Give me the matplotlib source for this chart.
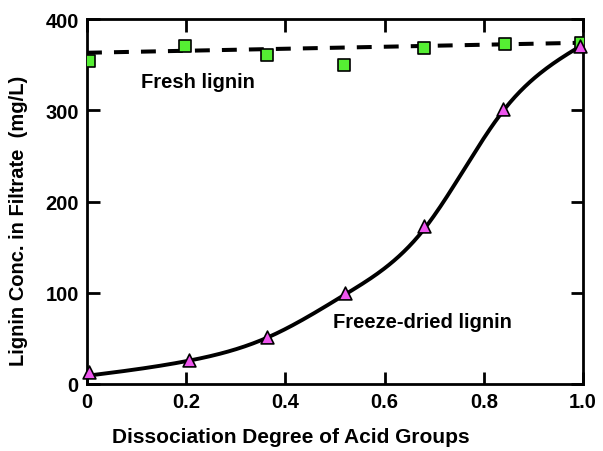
import numpy as np
import matplotlib
matplotlib.use('Agg')
import matplotlib.pyplot as plt

plt.rcParams['font.family'] = ['Liberation Sans', 'DejaVu Sans']
plt.rcParams['font.weight'] = 'bold'

# data
fresh_x = [0.004, 0.198, 0.363, 0.518, 0.68, 0.843, 0.996]
fresh_y = [354, 370, 361, 350, 368, 373, 374]
fresh_fit_x = [0.0, 1.0]
fresh_fit_y = [363, 374]

dried_x = [0.004, 0.205, 0.362, 0.521, 0.679, 0.838, 0.994]
dried_y = [13, 26, 52, 100, 173, 301, 370]
# knots of the smooth fitted curve
curve_x = [0.0, 0.2, 0.36, 0.52, 0.68, 0.84, 1.0]
curve_y = [9, 25, 50, 98, 170, 300, 372]


def natural_spline(xk, yk, xs):
    xk = np.asarray(xk, float)
    yk = np.asarray(yk, float)
    n = len(xk)
    h = np.diff(xk)
    A = np.zeros((n, n))
    b = np.zeros(n)
    A[0, 0] = A[-1, -1] = 1
    for i in range(1, n - 1):
        A[i, i - 1] = h[i - 1]
        A[i, i] = 2 * (h[i - 1] + h[i])
        A[i, i + 1] = h[i]
        b[i] = 6 * ((yk[i + 1] - yk[i]) / h[i] - (yk[i] - yk[i - 1]) / h[i - 1])
    M = np.linalg.solve(A, b)
    idx = np.clip(np.searchsorted(xk, xs) - 1, 0, n - 2)
    x0, x1 = xk[idx], xk[idx + 1]
    hh = x1 - x0
    t0, t1 = x1 - xs, xs - x0
    return (M[idx] * t0**3 / (6 * hh) + M[idx + 1] * t1**3 / (6 * hh)
            + (yk[idx] / hh - M[idx] * hh / 6) * t0
            + (yk[idx + 1] / hh - M[idx + 1] * hh / 6) * t1)


xs = np.linspace(0, 1, 300)
ys = natural_spline(curve_x, curve_y, xs)

fig = plt.figure(figsize=(6.03, 4.52), dpi=100)
ax = fig.add_axes([87 / 603, 1 - 385 / 452, 496 / 603, 365 / 452])

ax.plot(fresh_fit_x, fresh_fit_y, color='black', linewidth=2.9,
        linestyle=(0, (3.7, 3)), zorder=2)
ax.plot(xs, ys, color='black', linewidth=2.8, zorder=2)
ax.scatter(fresh_x, fresh_y, marker='s', s=75, color='#55ee33',
           edgecolor='black', linewidth=1.2, zorder=3)
ax.scatter(dried_x, dried_y, marker='^', s=85, color='#ee55ee',
           edgecolor='black', linewidth=1.2, zorder=4, clip_on=False)

ax.text(0.224, 332, 'Fresh lignin', ha='center', va='center',
        fontsize=14.5, fontweight='bold')
ax.text(0.676, 68, 'Freeze-dried lignin', ha='center', va='center',
        fontsize=14.5, fontweight='bold')

ax.set_xlim(0, 1.0)
ax.set_ylim(0, 400)
ax.set_xticks([0, 0.2, 0.4, 0.6, 0.8, 1.0])
ax.set_xticklabels(['0', '0.2', '0.4', '0.6', '0.8', '1.0'])
ax.set_yticks([0, 100, 200, 300, 400])
ax.tick_params(direction='in', top=True, right=True, length=9, width=2,
               labelsize=14.5, pad=6)
for lab in ax.get_xticklabels() + ax.get_yticklabels():
    lab.set_fontweight('bold')
for sp in ax.spines.values():
    sp.set_linewidth(2)

ax.set_xlabel('Dissociation Degree of Acid Groups', fontsize=15,
              fontweight='bold')
ax.set_ylabel('Lignin Conc. in Filtrate  (mg/L)', fontsize=14.5,
              fontweight='bold')
ax.xaxis.set_label_coords(0.411, -0.118)
ax.yaxis.set_label_coords(-0.118, 0.449)

fig.savefig('out.png', dpi=100)
